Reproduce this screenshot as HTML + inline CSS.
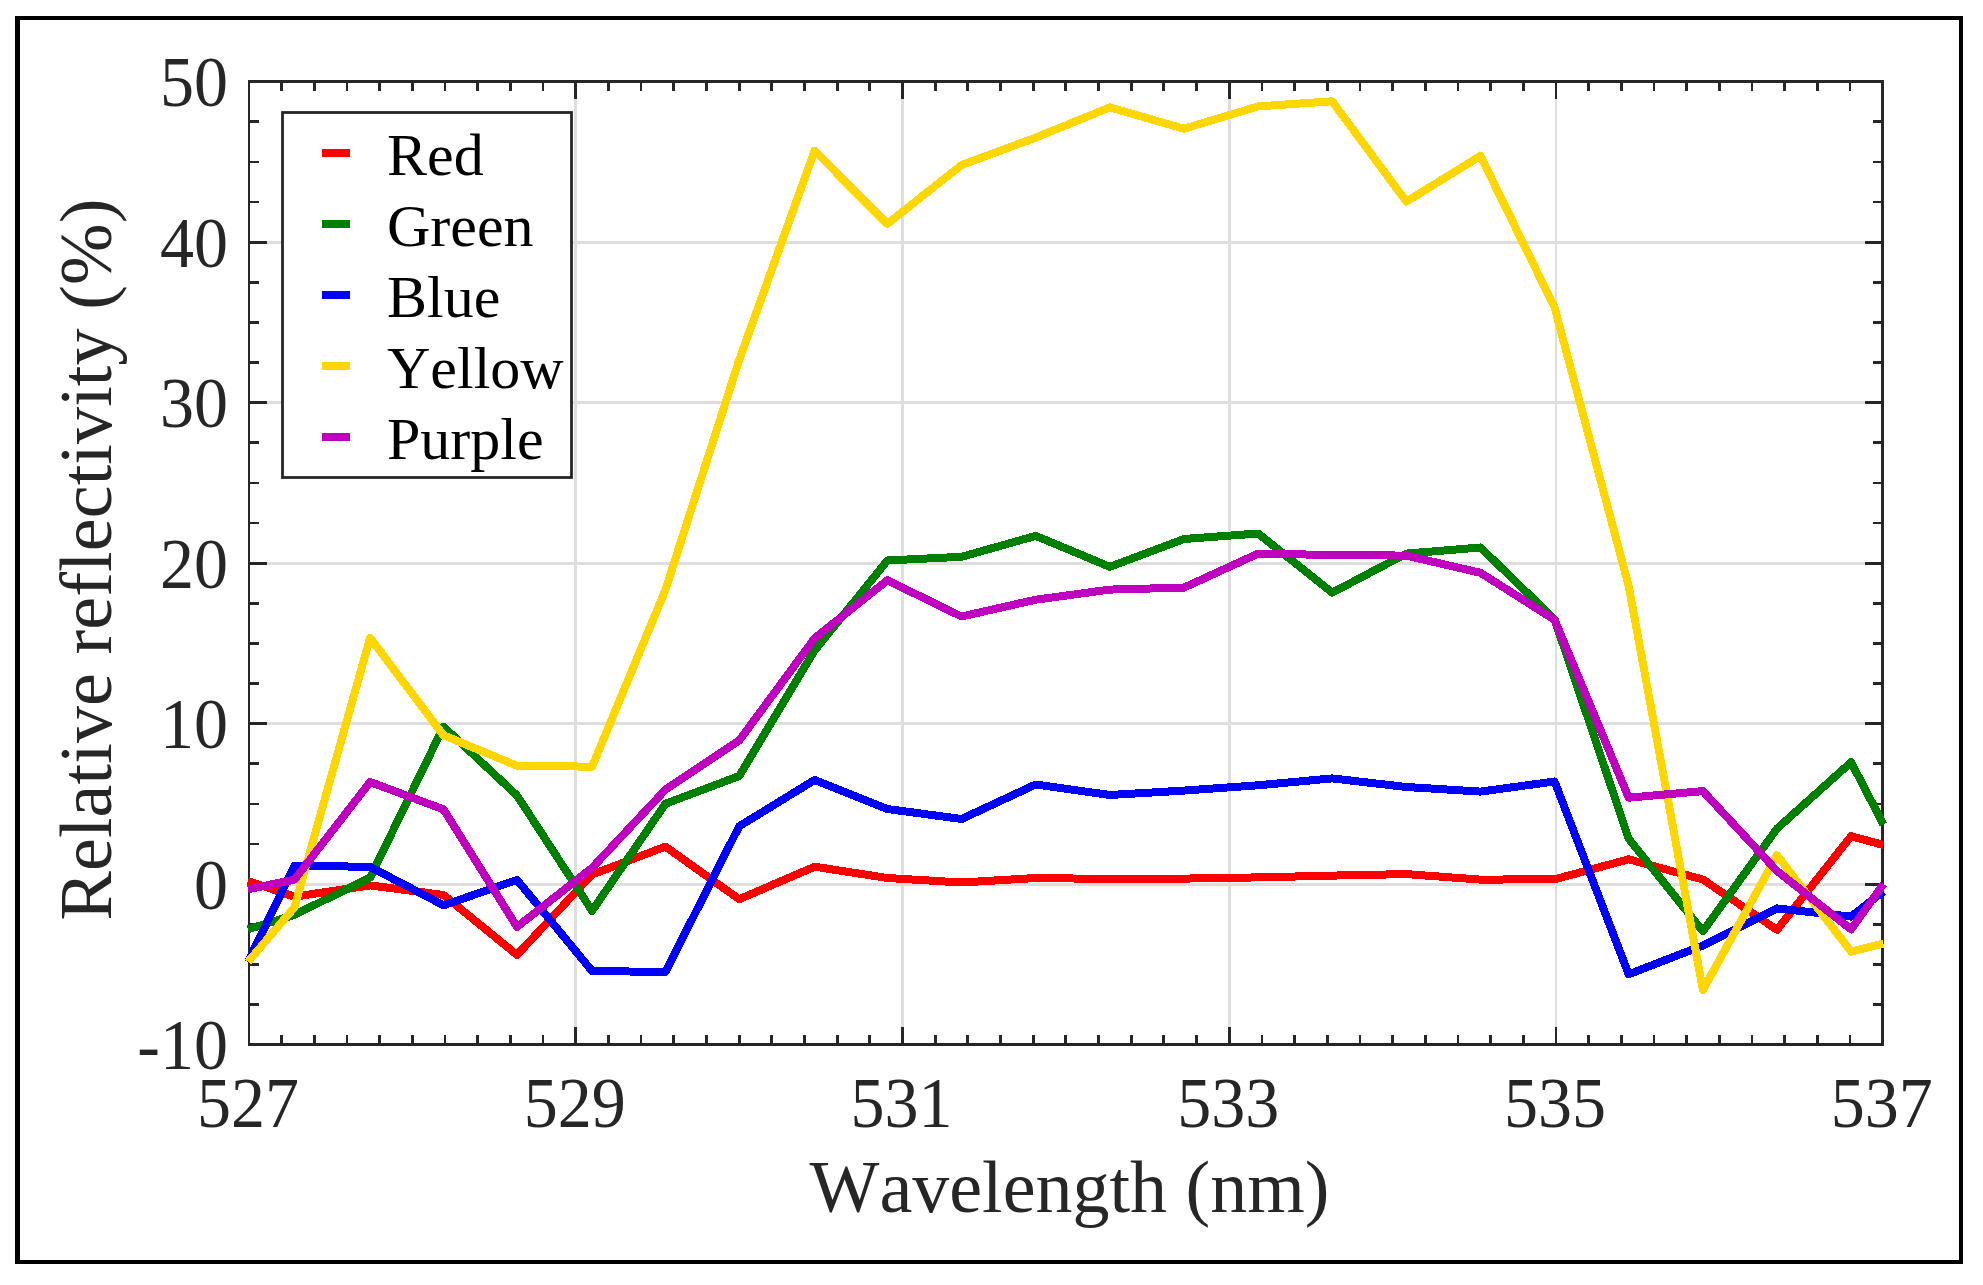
<!DOCTYPE html>
<html lang="en"><head><meta charset="utf-8"><title>Relative reflectivity vs wavelength</title>
<style>
html,body{margin:0;padding:0;background:#fff;}
body{width:1983px;height:1285px;overflow:hidden;}
svg{display:block;position:absolute;left:0;top:0;}
text{font-family:"Liberation Serif",serif;font-kerning:none;}
.tk{font-size:71px;fill:#262626;}
.lb{font-size:74px;fill:#262626;}
.lg{font-size:60px;fill:#000;}
</style></head><body>
<svg width="1983" height="1285" viewBox="0 0 1983 1285">
<rect x="0" y="0" width="1983" height="1285" fill="#fff"/>
<g fill="#000" shape-rendering="crispEdges">
<rect x="15" y="16" width="5" height="1248"/>
<rect x="15" y="16" width="1948" height="4"/>
<rect x="1959" y="16" width="4" height="1248"/>
<rect x="15" y="1260" width="1948" height="4"/>
</g>
<g fill="#dedede" shape-rendering="crispEdges">
<rect x="574" y="83" width="3" height="960"/>
<rect x="901" y="83" width="3" height="960"/>
<rect x="1228" y="83" width="3" height="960"/>
<rect x="1555" y="83" width="2" height="960"/>
<rect x="250" y="883" width="1631" height="3"/>
<rect x="250" y="722" width="1631" height="3"/>
<rect x="250" y="562" width="1631" height="3"/>
<rect x="250" y="401" width="1631" height="3"/>
<rect x="250" y="241" width="1631" height="3"/>
</g>
<g fill="#262626" shape-rendering="crispEdges">
<rect x="280" y="1035" width="3" height="8"/>
<rect x="280" y="83" width="3" height="8"/>
<rect x="313" y="1035" width="3" height="8"/>
<rect x="313" y="83" width="3" height="8"/>
<rect x="346" y="1035" width="2" height="8"/>
<rect x="346" y="83" width="2" height="8"/>
<rect x="378" y="1035" width="3" height="8"/>
<rect x="378" y="83" width="3" height="8"/>
<rect x="411" y="1035" width="3" height="8"/>
<rect x="411" y="83" width="3" height="8"/>
<rect x="444" y="1035" width="2" height="8"/>
<rect x="444" y="83" width="2" height="8"/>
<rect x="476" y="1035" width="3" height="8"/>
<rect x="476" y="83" width="3" height="8"/>
<rect x="509" y="1035" width="3" height="8"/>
<rect x="509" y="83" width="3" height="8"/>
<rect x="542" y="1035" width="2" height="8"/>
<rect x="542" y="83" width="2" height="8"/>
<rect x="574" y="1027" width="3" height="16"/>
<rect x="574" y="83" width="3" height="16"/>
<rect x="607" y="1035" width="3" height="8"/>
<rect x="607" y="83" width="3" height="8"/>
<rect x="640" y="1035" width="2" height="8"/>
<rect x="640" y="83" width="2" height="8"/>
<rect x="672" y="1035" width="3" height="8"/>
<rect x="672" y="83" width="3" height="8"/>
<rect x="705" y="1035" width="3" height="8"/>
<rect x="705" y="83" width="3" height="8"/>
<rect x="738" y="1035" width="3" height="8"/>
<rect x="738" y="83" width="3" height="8"/>
<rect x="770" y="1035" width="3" height="8"/>
<rect x="770" y="83" width="3" height="8"/>
<rect x="803" y="1035" width="3" height="8"/>
<rect x="803" y="83" width="3" height="8"/>
<rect x="836" y="1035" width="3" height="8"/>
<rect x="836" y="83" width="3" height="8"/>
<rect x="868" y="1035" width="3" height="8"/>
<rect x="868" y="83" width="3" height="8"/>
<rect x="901" y="1027" width="3" height="16"/>
<rect x="901" y="83" width="3" height="16"/>
<rect x="934" y="1035" width="3" height="8"/>
<rect x="934" y="83" width="3" height="8"/>
<rect x="966" y="1035" width="3" height="8"/>
<rect x="966" y="83" width="3" height="8"/>
<rect x="999" y="1035" width="3" height="8"/>
<rect x="999" y="83" width="3" height="8"/>
<rect x="1032" y="1035" width="3" height="8"/>
<rect x="1032" y="83" width="3" height="8"/>
<rect x="1064" y="1035" width="3" height="8"/>
<rect x="1064" y="83" width="3" height="8"/>
<rect x="1097" y="1035" width="3" height="8"/>
<rect x="1097" y="83" width="3" height="8"/>
<rect x="1130" y="1035" width="3" height="8"/>
<rect x="1130" y="83" width="3" height="8"/>
<rect x="1162" y="1035" width="3" height="8"/>
<rect x="1162" y="83" width="3" height="8"/>
<rect x="1195" y="1035" width="3" height="8"/>
<rect x="1195" y="83" width="3" height="8"/>
<rect x="1228" y="1027" width="3" height="16"/>
<rect x="1228" y="83" width="3" height="16"/>
<rect x="1261" y="1035" width="2" height="8"/>
<rect x="1261" y="83" width="2" height="8"/>
<rect x="1293" y="1035" width="3" height="8"/>
<rect x="1293" y="83" width="3" height="8"/>
<rect x="1326" y="1035" width="3" height="8"/>
<rect x="1326" y="83" width="3" height="8"/>
<rect x="1359" y="1035" width="2" height="8"/>
<rect x="1359" y="83" width="2" height="8"/>
<rect x="1391" y="1035" width="3" height="8"/>
<rect x="1391" y="83" width="3" height="8"/>
<rect x="1424" y="1035" width="3" height="8"/>
<rect x="1424" y="83" width="3" height="8"/>
<rect x="1457" y="1035" width="2" height="8"/>
<rect x="1457" y="83" width="2" height="8"/>
<rect x="1489" y="1035" width="3" height="8"/>
<rect x="1489" y="83" width="3" height="8"/>
<rect x="1522" y="1035" width="3" height="8"/>
<rect x="1522" y="83" width="3" height="8"/>
<rect x="1555" y="1027" width="2" height="16"/>
<rect x="1555" y="83" width="2" height="16"/>
<rect x="1587" y="1035" width="3" height="8"/>
<rect x="1587" y="83" width="3" height="8"/>
<rect x="1620" y="1035" width="3" height="8"/>
<rect x="1620" y="83" width="3" height="8"/>
<rect x="1653" y="1035" width="2" height="8"/>
<rect x="1653" y="83" width="2" height="8"/>
<rect x="1685" y="1035" width="3" height="8"/>
<rect x="1685" y="83" width="3" height="8"/>
<rect x="1718" y="1035" width="3" height="8"/>
<rect x="1718" y="83" width="3" height="8"/>
<rect x="1751" y="1035" width="2" height="8"/>
<rect x="1751" y="83" width="2" height="8"/>
<rect x="1783" y="1035" width="3" height="8"/>
<rect x="1783" y="83" width="3" height="8"/>
<rect x="1816" y="1035" width="3" height="8"/>
<rect x="1816" y="83" width="3" height="8"/>
<rect x="1849" y="1035" width="2" height="8"/>
<rect x="1849" y="83" width="2" height="8"/>
<rect x="250" y="1003" width="9" height="3"/>
<rect x="1873" y="1003" width="8" height="3"/>
<rect x="250" y="963" width="9" height="3"/>
<rect x="1873" y="963" width="8" height="3"/>
<rect x="250" y="923" width="9" height="3"/>
<rect x="1873" y="923" width="8" height="3"/>
<rect x="250" y="883" width="17" height="3"/>
<rect x="1865" y="883" width="16" height="3"/>
<rect x="250" y="843" width="9" height="2"/>
<rect x="1873" y="843" width="8" height="2"/>
<rect x="250" y="803" width="9" height="2"/>
<rect x="1873" y="803" width="8" height="2"/>
<rect x="250" y="762" width="9" height="3"/>
<rect x="1873" y="762" width="8" height="3"/>
<rect x="250" y="722" width="17" height="3"/>
<rect x="1865" y="722" width="16" height="3"/>
<rect x="250" y="682" width="9" height="3"/>
<rect x="1873" y="682" width="8" height="3"/>
<rect x="250" y="642" width="9" height="3"/>
<rect x="1873" y="642" width="8" height="3"/>
<rect x="250" y="602" width="9" height="3"/>
<rect x="1873" y="602" width="8" height="3"/>
<rect x="250" y="562" width="17" height="3"/>
<rect x="1865" y="562" width="16" height="3"/>
<rect x="250" y="522" width="9" height="2"/>
<rect x="1873" y="522" width="8" height="2"/>
<rect x="250" y="482" width="9" height="2"/>
<rect x="1873" y="482" width="8" height="2"/>
<rect x="250" y="441" width="9" height="3"/>
<rect x="1873" y="441" width="8" height="3"/>
<rect x="250" y="401" width="17" height="3"/>
<rect x="1865" y="401" width="16" height="3"/>
<rect x="250" y="361" width="9" height="3"/>
<rect x="1873" y="361" width="8" height="3"/>
<rect x="250" y="321" width="9" height="3"/>
<rect x="1873" y="321" width="8" height="3"/>
<rect x="250" y="281" width="9" height="3"/>
<rect x="1873" y="281" width="8" height="3"/>
<rect x="250" y="241" width="17" height="3"/>
<rect x="1865" y="241" width="16" height="3"/>
<rect x="250" y="201" width="9" height="2"/>
<rect x="1873" y="201" width="8" height="2"/>
<rect x="250" y="161" width="9" height="2"/>
<rect x="1873" y="161" width="8" height="2"/>
<rect x="250" y="120" width="9" height="3"/>
<rect x="1873" y="120" width="8" height="3"/>
<rect x="248" y="80" width="2" height="966"/>
<rect x="1881" y="80" width="3" height="966"/>
<rect x="248" y="80" width="1636" height="3"/>
<rect x="248" y="1043" width="1636" height="3"/>
</g>
<g fill="none" stroke-width="8.00" stroke-linejoin="round" stroke-linecap="butt" shape-rendering="crispEdges">
<polyline stroke="#ff0000" points="248.0,881.0 294.4,896.7 370.1,885.4 443.6,895.0 517.0,954.9 592.1,874.5 665.4,846.6 739.2,899.2 814.6,866.7 887.4,878.0 961.6,882.5 1035.7,878.0 1109.8,879.0 1184.0,878.6 1258.1,877.4 1332.2,875.6 1406.3,874.1 1480.5,879.6 1554.6,879.3 1628.7,859.3 1702.9,879.5 1777.0,929.8 1851.1,836.2 1883.5,845.0"/>
<polyline stroke="#008000" points="248.0,929.3 294.4,914.9 370.1,877.5 443.6,726.7 517.0,795.5 592.1,910.8 665.4,803.8 739.2,776.0 814.6,650.5 887.4,560.5 961.6,556.8 1035.7,535.9 1109.8,566.8 1184.0,539.0 1258.1,533.5 1332.2,592.7 1406.3,553.6 1480.5,547.5 1554.6,619.4 1628.7,838.7 1702.9,931.3 1777.0,828.6 1851.1,762.2 1883.5,824.5"/>
<polyline stroke="#0000ff" points="248.0,961.9 294.4,865.8 370.1,866.8 443.6,905.3 517.0,879.9 592.1,971.0 665.4,972.0 739.2,826.3 814.6,780.0 887.4,809.0 961.6,819.0 1035.7,784.5 1109.8,795.0 1184.0,790.6 1258.1,785.3 1332.2,778.4 1406.3,787.0 1480.5,791.6 1554.6,781.5 1628.7,974.3 1702.9,945.5 1777.0,908.4 1851.1,916.6 1883.5,891.3"/>
<polyline stroke="#ffd700" points="248.0,961.9 294.4,907.3 370.1,637.9 443.6,735.3 517.0,765.7 592.1,766.7 665.4,590.0 739.2,360.0 814.6,150.9 887.4,223.8 961.6,165.0 1035.7,137.6 1109.8,107.4 1184.0,128.7 1258.1,106.4 1332.2,101.3 1406.3,201.6 1480.5,155.9 1554.6,307.5 1628.7,586.0 1702.9,990.0 1777.0,855.2 1851.1,951.6 1883.5,943.5"/>
<polyline stroke="#bf00bf" points="248.0,889.2 294.4,879.7 370.1,782.0 443.6,809.4 517.0,926.9 592.1,867.8 665.4,789.7 739.2,740.5 814.6,638.3 887.4,580.3 961.6,616.5 1035.7,599.7 1109.8,589.6 1184.0,587.6 1258.1,553.6 1332.2,555.0 1406.3,555.6 1480.5,572.8 1554.6,619.8 1628.7,797.7 1702.9,791.1 1777.0,871.0 1851.1,929.4 1883.5,884.0"/>
</g>
<g class="tk" text-anchor="middle">
<text transform="translate(248.0,1127.3) scale(0.9577,1)">527</text>
<text transform="translate(574.7,1127.3) scale(0.9577,1)">529</text>
<text transform="translate(901.5,1127.3) scale(0.9577,1)">531</text>
<text transform="translate(1228.2,1127.3) scale(0.9577,1)">533</text>
<text transform="translate(1555.0,1127.3) scale(0.9577,1)">535</text>
<text transform="translate(1881.7,1127.3) scale(0.9577,1)">537</text>
</g>
<g class="tk" text-anchor="end">
<text transform="translate(228,1069.1) scale(0.9577,1)">-10</text>
<text transform="translate(228,908.6) scale(0.9577,1)">0</text>
<text transform="translate(228,748.1) scale(0.9577,1)">10</text>
<text transform="translate(228,587.6) scale(0.9577,1)">20</text>
<text transform="translate(228,427.1) scale(0.9577,1)">30</text>
<text transform="translate(228,266.6) scale(0.9577,1)">40</text>
<text transform="translate(228,106.1) scale(0.9577,1)">50</text>
</g>
<text class="lb" text-anchor="middle" x="1069.5" y="1212">Wavelength (nm)</text>
<text class="lb" text-anchor="middle" transform="translate(111,559.5) rotate(-90)" style="letter-spacing:0.12px">Relative reflectivity (%)</text>
<rect x="282.5" y="112.5" width="289" height="365" fill="#fff" stroke="#262626" stroke-width="2.80"/>
<rect x="322" y="149.0" width="28" height="8" fill="#ff0000"/>
<text class="lg" x="387" y="174.5">Red</text>
<rect x="322" y="220.0" width="28" height="8" fill="#008000"/>
<text class="lg" x="387" y="245.5">Green</text>
<rect x="322" y="291.0" width="28" height="8" fill="#0000ff"/>
<text class="lg" x="387" y="316.5">Blue</text>
<rect x="322" y="362.0" width="28" height="8" fill="#ffd700"/>
<text class="lg" x="387" y="387.5">Yellow</text>
<rect x="322" y="433.0" width="28" height="8" fill="#bf00bf"/>
<text class="lg" x="387" y="458.5">Purple</text>
</svg>
</body></html>
